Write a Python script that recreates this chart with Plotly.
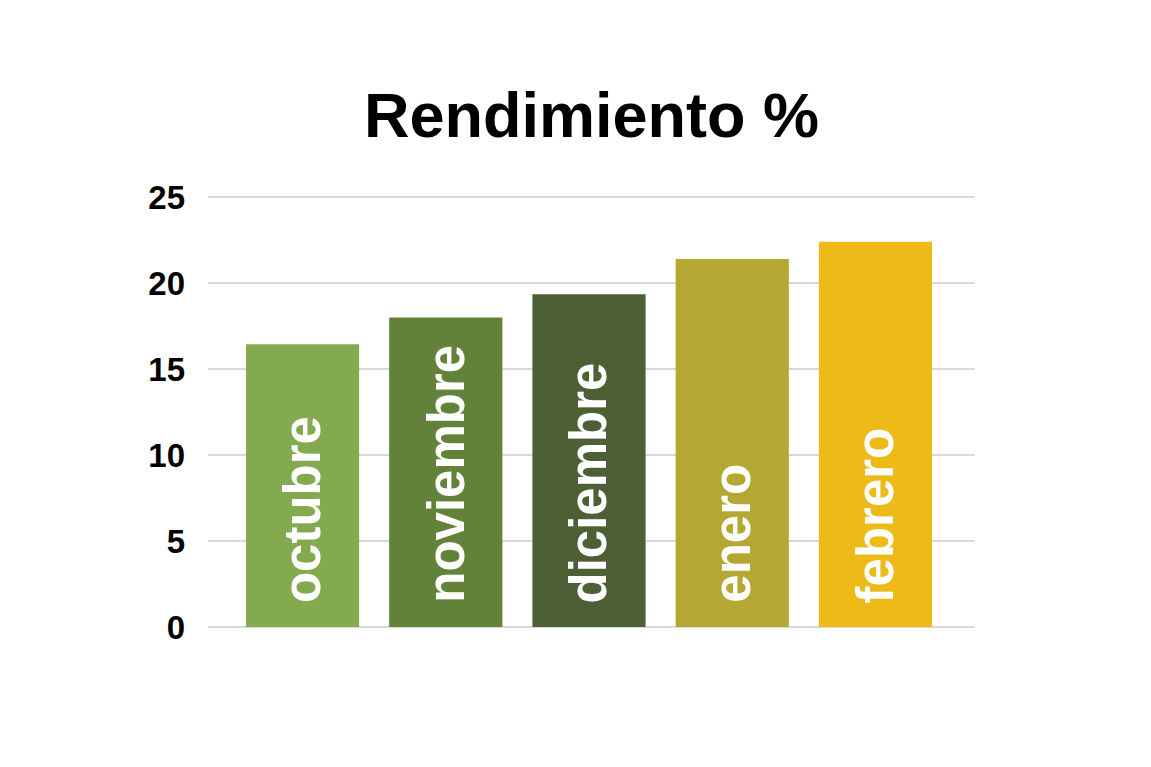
import plotly.graph_objects as go

meses = ["octubre", "noviembre", "diciembre", "enero", "febrero"]
rendimiento = [16.45, 18.0, 19.35, 21.4, 22.4]
colores = ["#84AA50", "#62823A", "#4C5F35", "#B4A732", "#EDBA18"]
ticks_y = [0, 5, 10, 15, 20, 25]

fig = go.Figure(go.Bar(
    x=meses,
    y=rendimiento,
    marker_color=colores,
    marker_line_width=0,
    width=0.79,
    hoverinfo="x+y",
))

# etiquetas verticales dentro de cada barra
for mes in meses:
    fig.add_annotation(
        x=mes, y=0, xref="x", yref="y",
        text="<b>" + mes + "</b>",
        textangle=-90, showarrow=False,
        xanchor="center", yanchor="bottom", yshift=22,
        font=dict(family="Liberation Sans", size=51, color="white"),
    )

fig.update_layout(
    width=1151, height=767,
    margin=dict(l=200, r=184, t=184, b=148),
    paper_bgcolor="white", plot_bgcolor="white",
    title=dict(text="<b>Rendimiento %</b>", x=0.5, xref="paper", xanchor="center",
               y=0.86, yanchor="middle",
               font=dict(family="Liberation Sans", size=63, color="black")),
    showlegend=False,
    font=dict(family="Liberation Sans"),
)
fig.update_xaxes(showticklabels=False, showgrid=False, showline=False, range=[-0.66, 4.695])
fig.update_yaxes(range=[0, 25.3], tickvals=ticks_y, showgrid=True, gridcolor="#D9D9D9", gridwidth=2,
                 zeroline=True, zerolinecolor="#D9D9D9", zerolinewidth=2, showline=False,
                 ticklabelstandoff=22,
                 tickfont=dict(family="Liberation Sans", size=33, color="black", weight="bold"))

fig.write_html("out.html")
